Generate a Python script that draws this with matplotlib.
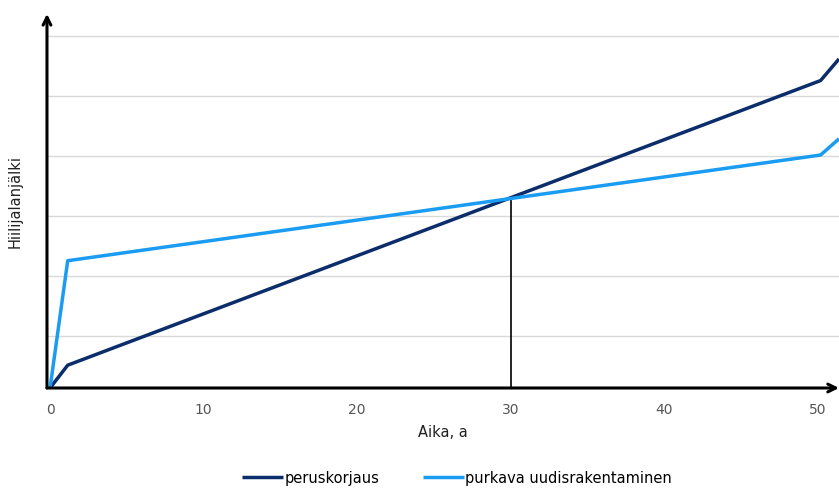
import matplotlib.pyplot as plt

# values (y in arbitrary units, no labels on y)
years = [0, 1.15, 50.2, 51.4]
peruskorjaus = [0.0, 0.38, 5.12, 5.48]
purkava = [0.0, 2.12, 3.88, 4.15]
x_ticks = [0, 10, 20, 30, 40, 50]
grid_y = [0.87, 1.87, 2.87, 3.87, 4.87, 5.87]
cross_year = 30
cross_value = 3.18

plt.rcParams['font.family'] = ['DejaVu Sans']

fig = plt.figure(figsize=(8.39, 4.89), dpi=100)
ax = fig.add_axes([0.056, 0.2045, 0.944, 0.765])

dark = '#0c2d6b'
light = '#1a9cf2'

ax.plot(years, peruskorjaus, color=dark, lw=2.5, label='peruskorjaus', solid_capstyle='butt', zorder=3)
ax.plot(years, purkava, color=light, lw=2.5, label='purkava uudisrakentaminen', solid_capstyle='butt', zorder=3)
ax.plot([cross_year, cross_year], [0, cross_value], color='black', lw=1.2, zorder=2)

ax.set_xlim(-0.2, 51.4)
ax.set_ylim(0, 6.23)
ax.set_xticks(x_ticks)
ax.set_yticks(grid_y)
ax.set_yticklabels([])
ax.tick_params(axis='y', length=0)
ax.tick_params(axis='x', length=0, pad=10, labelsize=10, labelcolor='#555555')
ax.grid(axis='y', color='#d9d9d9', lw=1)
ax.set_axisbelow(True)

for s in ax.spines.values():
    s.set_visible(False)

ax.annotate('', xy=(1.0, 0), xytext=(0, 0), xycoords='axes fraction',
            arrowprops=dict(arrowstyle='->', lw=2.2, color='black', shrinkA=0, shrinkB=0,
                            mutation_scale=14), annotation_clip=False)
ax.annotate('', xy=(0, 1.0), xytext=(0, 0), xycoords='axes fraction',
            arrowprops=dict(arrowstyle='->', lw=2.2, color='black', shrinkA=0, shrinkB=0,
                            mutation_scale=14), annotation_clip=False)

ax.set_xlabel('Aika, a', fontsize=10.5, color='#222222', labelpad=6)
ax.set_ylabel('Hiilijalanjälki', fontsize=10.5, color='#222222', labelpad=14)

fig.legend(loc='center', bbox_to_anchor=(0.545, 0.022), ncol=2, frameon=False,
           fontsize=10.5, handlelength=2.8, handletextpad=0.1, columnspacing=3.0)

fig.savefig('out.png', dpi=100)
